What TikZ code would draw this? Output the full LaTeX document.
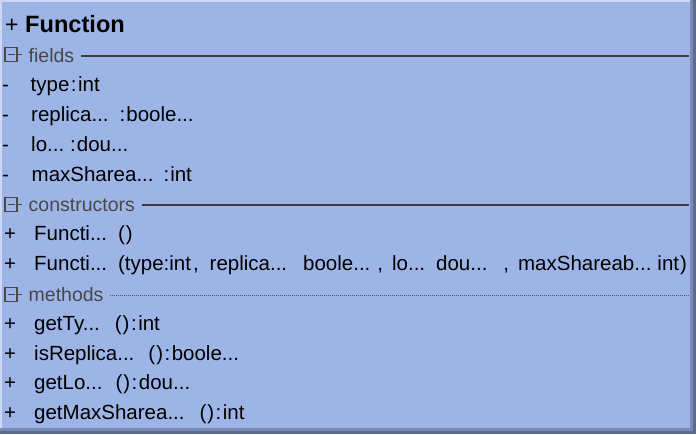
\documentclass[tikz,border=0pt]{standalone}
\usepackage{fontspec}
\setmainfont{Liberation Sans}
\begin{document}
\definecolor{classbg}{RGB}{157,180,230}
\definecolor{edgelight}{RGB}{205,216,242}
\definecolor{shadowmid}{RGB}{122,138,180}
\definecolor{shadowdark}{RGB}{92,106,142}
\definecolor{seclabel}{RGB}{72,72,72}
\definecolor{secline}{RGB}{60,60,60}
\newcommand\gp[1]{\hspace{#1pt}}
\begin{tikzpicture}[x=1pt,y=-1pt,
  rowtext/.style={anchor=base west,inner sep=0pt,font=\fontsize{20.5}{24}\selectfont},
  sectext/.style={anchor=base west,inner sep=0pt,text=seclabel,font=\fontsize{19.5}{24}\selectfont},
  toggle/.style={draw=seclabel,line width=1.5pt,minimum width=12pt,minimum height=14pt,inner sep=0pt},
  tick/.style={draw=seclabel,line width=1.5pt},
  solidrule/.style={draw=secline,line width=2pt},
  dotrule/.style={draw=secline!85,line width=1pt,dash pattern=on 0.8pt off 1.2pt}]
\useasboundingbox (0,0) rectangle (696,434);
% frame with drop shadow
\fill[shadowdark] (0,0) rectangle (696,434);
\fill[shadowmid] (0,0) rectangle (693,431);
\fill[edgelight] (0,0) rectangle (690,428);
\fill[classbg] (2,2) rectangle (690,428);

% title
\node[rowtext,font=\fontsize{23}{26}\selectfont] (vis) at (5,32) {+};
\node[rowtext,font=\bfseries\fontsize{23.6}{26}\selectfont] (title) at (25,32) {Function};

% section: fields
\node[toggle] (tgF) at (11,54.5) {};
\draw[tick] (7.5,54.5) -- (14.5,54.5);
\draw[tick] (tgF.east) -- ++(4,0);
\node[sectext] (secF) at (28.5,62) {fields};
\coordinate (endF) at (689,55.5);
\draw[solidrule] (secF.east |- endF) ++(7,0) -- (endF);

\node[rowtext] (v1) at (2,91.8) {-};
\node[rowtext] (f1) at (30.5,91.8) {type\gp{1.5}:\gp{1.5}int};
\node[rowtext] (v2) at (2,121.6) {-};
\node[rowtext] (f2) at (31,121.6) {replica...\gp{11}:\gp{1}boole...};
\node[rowtext] (v3) at (2,151.4) {-};
\node[rowtext] (f3) at (31,151.4) {lo...\gp{6}:\gp{1}dou...};
\node[rowtext] (v4) at (2,181.2) {-};
\node[rowtext] (f4) at (31.5,181.2) {maxSharea...\gp{10}:\gp{1}int};

% section: constructors
\node[toggle] (tgC) at (11,204.5) {};
\draw[tick] (7.5,204.5) -- (14.5,204.5);
\draw[tick] (tgC.east) -- ++(4,0);
\node[sectext] (secC) at (28.5,211) {constructors};
\coordinate (endC) at (689,205);
\draw[solidrule] (secC.east |- endC) ++(7,0) -- (endC);

\node[rowtext] (v5) at (4,240.8) {+};
\node[rowtext] (c1) at (34,240.8) {Functi...\gp{11}(\gp{1})};
\node[rowtext] (v6) at (4,270.6) {+};
\node[rowtext] (c2) at (34,270.6) {Functi...\gp{11}(type:int\gp{2},\gp{11}replica...\gp{16}boole...\gp{7},\gp{9}lo...\gp{11}dou...\gp{16},\gp{9}maxShareab...\gp{6}int\gp{1})};

% section: methods
\node[toggle] (tgM) at (11,294.5) {};
\draw[tick] (7.5,294.5) -- (14.5,294.5);
\draw[tick] (tgM.east) -- ++(4,0);
\node[sectext] (secM) at (28.5,301) {methods};
\coordinate (endM) at (689,295);
\draw[dotrule] (secM.east |- endM) ++(6,0) -- (endM);

\node[rowtext] (v7) at (4,330.2) {+};
\node[rowtext] (m1) at (34,330.2) {getTy...\gp{15}(\gp{1})\gp{1.5}:\gp{1.5}int};
\node[rowtext] (v8) at (4,360) {+};
\node[rowtext] (m2) at (34,360) {isReplica...\gp{14}(\gp{1})\gp{1.5}:\gp{1.5}boole...};
\node[rowtext] (v9) at (4,389.8) {+};
\node[rowtext] (m3) at (34,389.8) {getLo...\gp{13}(\gp{1})\gp{1.5}:\gp{1.5}dou...};
\node[rowtext] (v10) at (4,419.6) {+};
\node[rowtext] (m4) at (34,419.6) {getMaxSharea...\gp{15}(\gp{1})\gp{1.5}:\gp{1.5}int};
\end{tikzpicture}
\end{document}
